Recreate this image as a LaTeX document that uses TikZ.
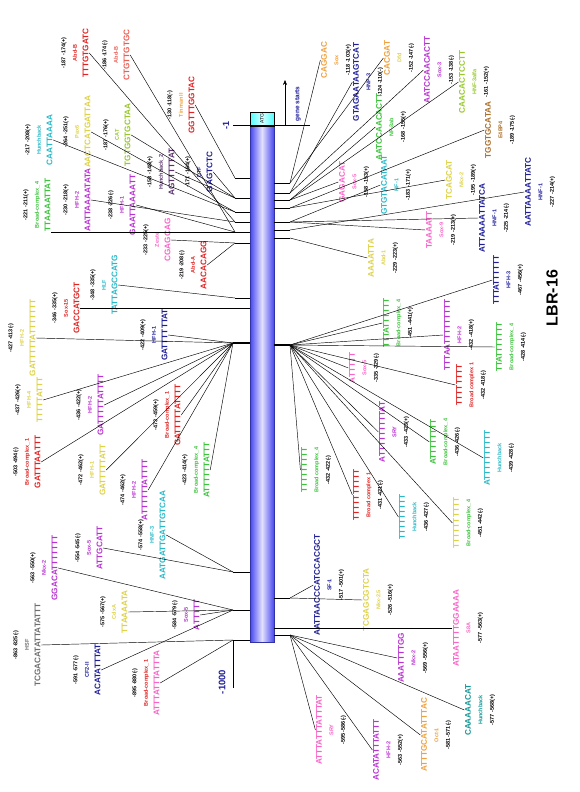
\documentclass[tikz,border=0pt]{standalone}
\usepackage{fontspec}
\setmainfont{Liberation Sans}
\usetikzlibrary{arrows.meta}

\definecolor{cred}{RGB}{225,35,35}
\definecolor{csalmon}{RGB}{235,95,85}
\definecolor{corange}{RGB}{240,160,60}
\definecolor{cyellow}{RGB}{222,210,70}
\definecolor{cgreen}{RGB}{60,195,60}
\definecolor{cygreen}{RGB}{150,200,40}
\definecolor{ccyan}{RGB}{40,185,200}
\definecolor{cteal}{RGB}{20,150,150}
\definecolor{cnavy}{RGB}{30,30,150}
\definecolor{cpurple}{RGB}{185,50,210}
\definecolor{cdpurple}{RGB}{90,50,110}
\definecolor{cpink}{RGB}{250,100,200}
\definecolor{cbrown}{RGB}{170,110,40}
\definecolor{cgray}{RGB}{110,110,110}
\definecolor{barblue}{RGB}{70,70,240}
\definecolor{barmid}{RGB}{225,225,255}

% three text lines of a binding-site label
\newcommand\pn[1]{{\color{black}\fontsize{5.5}{11.5}\selectfont\bfseries #1}}
\newcommand\fn[1]{{\fontsize{5.5}{11.5}\selectfont\bfseries #1}}
\newcommand\sn[1]{{\fontsize{8.2}{11.5}\selectfont\bfseries #1}}
% left labels: position, factor, sequence (sequence nearest the bar)
\newcommand\Llab[7][]{\node[lab,text=#4,#1] (#2) at (#3) {\pn{#5}\\\fn{#6}\\\sn{#7}};}
% right labels: sequence, factor, position
\newcommand\Rlab[7][]{\node[lab,text=#4,#1] (#2) at (#3) {\sn{#7}\\\fn{#6}\\\pn{#5}};}

\begin{document}
\begin{tikzpicture}[x=1pt,y=-1pt,
  lab/.style={rotate=90,align=center,inner sep=0.5pt,font=\fontsize{5.5}{11.5}\selectfont},
  wire/.style={draw=black,line width=0.45pt},
  hubwire/.style={draw=black,line width=2pt},
  barbox/.style={inner sep=0pt,minimum width=24pt,draw=barblue!70!black,line width=0.4pt,
     left color=barblue,right color=barblue,middle color=barmid},
  atgbox/.style={inner sep=0pt,minimum width=24pt,minimum height=14pt,draw=black,line width=0.4pt,
     left color=cyan!70,right color=cyan!70,middle color=cyan!15},
  posmark/.style={rotate=90,text=cnavy,font=\bfseries\fontsize{8}{9}\selectfont,inner sep=0.5pt}]
\useasboundingbox[fill=white] (0,0) rectangle (579,792);

% promoter bar
\node[barbox,minimum height=516pt] (bar) at (262,384) {};
\node[atgbox] (atg) at (262,119) {};
\node[rotate=90,font=\fontsize{5}{6}\selectfont] (atgt) at (atg) {ATG};

% reference marks
\coordinate (m1a) at (233,125);
\coordinate (m1b) at (310,125);
\draw[wire] (m1a) -- (m1b);
\node[posmark,font=\bfseries\fontsize{9}{10}\selectfont] (minus1) at (226,125) {-1};
\coordinate (gs0) at (285,125);
\coordinate (gs1) at (285,80);
\draw[wire,-{Stealth[length=5pt,width=4pt]}] (gs0) -- (gs1);
\node[posmark,font=\bfseries\fontsize{6.5}{7}\selectfont] (gstart) at (298,104) {gene starts};
\coordinate (m1000a) at (233,640);
\coordinate (m1000b) at (233,688);
\draw[wire] (m1000a) -- (m1000b);
\node[posmark,font=\bfseries\fontsize{9.5}{10}\selectfont] (minus1000) at (222,682) {-1000};
\node[rotate=90,font=\bfseries\fontsize{16}{18}\selectfont] (title) at (552,298) {LBR-16};

% collecting points beside the bar
\coordinate (hA) at (235,178);
\coordinate (hB) at (235,198);
\coordinate (hC) at (235,212);
\coordinate (hD) at (235,222);
\coordinate (hK) at (235,232);
\coordinate (hE) at (235,243);
\coordinate (hF) at (235,298);
\coordinate (hG) at (233,343);
\coordinate (hH) at (233,572);
\coordinate (hI) at (233,610);
\coordinate (hJ) at (233,640);
\coordinate (ha) at (290,183);
\coordinate (hb) at (290,193);
\coordinate (hc) at (290,200);
\coordinate (hd) at (290,208);
\coordinate (he) at (290,222);
\coordinate (hk) at (290,230);
\coordinate (hf) at (290,238);
\coordinate (hg) at (290,345);
\coordinate (hh) at (290,598);
\coordinate (hj) at (290,635);

\foreach \h in {hA,hB,hC,hD,hK,hE,hF,hH,hI,hJ}{\draw[wire] (\h) -- (\h -| bar.west);}
\foreach \h in {ha,hb,hc,hd,he,hk,hf,hh,hj}{\draw[wire] (\h) -- (\h -| bar.east);}
\draw[hubwire] (hG) -- (hG -| bar.west);
\draw[hubwire] (hg) -- (hg -| bar.east);

% ---------------- left side ----------------
\Llab{L1}{75,53}{cred}{-187 -174(+)}{Abd-B}{TTTGTGATC}
\Llab{L2}{116,55}{csalmon}{-186 -174(-)}{Abd-B}{CTGTTGTGC}
\Llab{L3}{181,105}{cred}{-130 -118(-)}{\color{corange}Tinman II}{GGTTTGGTAC}
\Llab{L4}{199,172}{cnavy}{-171 -164(+)}{DTF}{GAGTCTC}
\Llab{L5}{39,140}{ccyan}{-217 -208(+)}{Hunchback}{CAATTAAAA}
\Llab{L6}{77,132}{cyellow}{-264 -251(+)}{Pax6}{AACTCATGATTAA}
\Llab{L7}{117,135}{cygreen}{-187 -176(+)}{CAT}{TGTGGTGCTAA}
\Llab{L8}{161,172}{cdpurple}{-158 -148(+)}{Hunchback\_2}{AGTTTTTAT}
\Llab{L9}{37,205}{cgreen}{-221 -211(+)}{Broad-complex\_4}{TTAAAATTAT}
\Llab{L10}{77,200}{cpurple}{-230 -218(+)}{HFH-2}{AATTAAAATATA}
\Llab{L11}{122,205}{cpurple}{-238 -226(-)}{HFH-1}{GAATTAAAATT}
\Llab{L12}{157,240}{cpink}{-233 -225(+)}{Zeste}{CGAGCAG}
\Llab{L13}{193,265}{cred}{-219 -208(-)}{Abd-A}{AACACAGG}
\Llab{L14}{66,308}{cred}{-346 -335(+)}{Sox-15}{GACCATGCT}
\Llab{L15}{104,285}{ccyan}{-348 -335(+)}{HLF}{TATTAGCCATG}
\Llab{L16}{154,335}{cnavy}{-422 -409(+)}{HFH-1}{GATTTTTTAT}
\Llab{L17}{22,338}{cyellow}{-427 -413(-)}{HFH-2}{GATTTTTATTTTTTT}
\Llab{L18}{29,400}{cyellow}{-437 -426(+)}{HFH-4}{TTTTTATTT}
\Llab{L19}{90,405}{cpurple}{-436 -422(+)}{HFH-2}{GATTTTTATTTT}
\Llab{L20}{167,415}{cred}{-473 -459(+)}{Broad-complex\_1}{GATTTTTATTTT}
\Llab{L21}{27,462}{cred}{-503 -494(-)}{Broad-complex\_1}{GATTTAATTT}
\Llab{L22}{92,470}{cyellow}{-472 -462(+)}{HFH-1}{GATTTTTATT}
\Llab{L23}{134,490}{cpurple}{-474 -462(+)}{HFH-2}{ATTTTTTATTTT}
\Llab{L24}{196,470}{cgreen}{-423 -414(+)}{Broad-complex\_4}{ATTTTTTATTT}
\Llab{L25}{152,535}{ccyan}{-574 -558(+)}{HNF-3}{AATGATTGATTGTCAA}
\Llab{L26}{89,548}{cpurple}{-554 -545(-)}{Sox-5}{ATTGCATT}
\Llab{L27}{44,568}{cpurple}{-563 -550(+)}{Nkx-2}{GGACATTTTTTT}
\Llab{L28}{114,612}{cyellow}{-575 -567(+)}{CdxA}{TTAAAATA}
\Llab{L29}{186,615}{cpurple}{-584 -579(-)}{Sox-5}{ATTTTT}
\Llab{L30}{27,645}{cgray}{-863 -825(-)}{HSF}{TCGACATATTATATTT}
\Llab{L31}{87,670}{cnavy}{-591 -577(-)}{CF2-II}{ACATATTTAT}
\Llab{L32}{146,683}{cpink}{-895 -880(-)}{\color{cred}Broad-complex\_1}{ATTTATTTATTTA}

\foreach \n/\h in {L1/hD,L2/hK,L3/hA,L4/hB,L5/hC,L6/hC,L7/hB,L8/hB,L10/hD,L11/hK,
  L12/hE,L13/hE,L15/hF,L16/hG,L17/hG,L18/hG,L19/hG,L20/hG,L21/hG,L22/hG,L23/hG,L24/hG,
  L25/hH,L26/hH,L27/hI,L28/hI,L29/hI,L30/hJ,L31/hI,L32/hJ}{\draw[wire] (\n.south) -- (\h);}
\draw[wire] (L9.south west) -- (L9.south west -| bar.west);
\draw[wire] (L14.south) -- (L14.south -| bar.west);

% ---------------- right side ----------------
\Rlab{R1}{336,60}{corange}{-118 -103(+)}{Sox}{CAGGAC}
\Rlab{R2}{368,82}{cnavy}{-124 -110(-)}{HNF-3}{GTAGAATAAGTCAT}
\Rlab{R3}{399,58}{corange}{-152 -147(-)}{\color{cyellow}Dfd}{CACGAT}
\Rlab{R4}{391,127}{cgreen}{-168 -155(+)}{NF-3ab}{AATCCAACACTT}
\Rlab{R5}{439,70}{cpurple}{-153 -138(-)}{Sox-3}{AATCCAACACTT}
\Rlab{R6}{474,82}{cygreen}{-161 -152(+)}{HNF-3alfa}{CAACACTCCTT}
\Rlab{R7}{500,130}{cbrown}{-189 -175(-)}{E4BP4}{TGGTGCATAA}
\Rlab{R8}{540,192}{cnavy}{-227 -214(+)}{HNF-1}{AATTAAAATTATC}
\Rlab{R9}{396,185}{ccyan}{-183 -171(+)}{HF-1}{GTGTACATAAT}
\Rlab{R10}{461,180}{cyellow}{-195 -189(+)}{Nkx-2}{TCAGCAT}
\Rlab{R11}{354,182}{cpink}{-158 -153(+)}{Sox-5}{GAGACAT}
\Rlab{R12}{441,230}{cpink}{-219 -213(+)}{Sox-9}{TAAAATT}
\Rlab{R13}{383,258}{cyellow}{-229 -223(+)}{Abd-1}{AAAATTA}
\Rlab{R14}{494,218}{cnavy}{-225 -214(-)}{HNF-1}{ATTAAAATTATCA}
\Rlab{R15}{508,280}{cnavy}{-467 -456(+)}{HFH-3}{TTTATTTTTT}
\Rlab{R16}{511,347}{cgreen}{-428 -414(-)}{Broad-complex\_4}{TTATTTTTTT}
\Rlab{R17}{398,323}{cgreen}{-451 -441(+)}{Broad-complex\_4}{TTTATTTTTT}
\Rlab{R18}{459,335}{cpurple}{-432 -418(+)}{HFH-2}{TTTAATTTTTTTTT}
\Rlab{R19}{471,385}{cred}{-432 -418(-)}{Broad complex 1}{TTTTTTTT}
\Rlab{R20}{364,368}{cpink}{-335 -329(-)}{Sox-5}{ATTTTT}
\Rlab{R21}{394,432}{cpurple}{-433 -423(+)}{SRY}{ATTTTTTTTTAT}
\Rlab{R22}{445,442}{cgreen}{-436 -426(-)}{Broad-complex\_4}{ATTTTTTTT}
\Rlab{R23}{499,458}{ccyan}{-439 -428(-)}{Hunchback}{ATTTTTTTTTT}
\Rlab{R24}{316,470}{cgreen}{-432 -422(-)}{Broad complex\_4}{TTTTTTTTT}
\Rlab{R25}{368,495}{cred}{-431 -421(-)}{Broad complex 1}{TTTTTTTTTT}
\Rlab{R26}{414,517}{ccyan}{-436 -427(-)}{Hunchback}{TTTTTTTTT}
\Rlab{R27}{468,523}{cyellow}{-451 -442(-)}{\color{cgreen}Broad-complex\_4}{TTTTTTTTTT}
\Rlab{R28}{329,585}{cnavy}{-517 -501(+)}{SF-1}{AATTAACCCATCCACGCT}
\Rlab{R29}{378,600}{cyellow}{-526 -516(+)}{Nkx-2.5}{TCGAGCGTCTA}
\Rlab{R30}{468,628}{cpink}{-577 -563(+)}{S8A}{ATAATTTTGGAAAA}
\Rlab{R31}{413,658}{cpurple}{-569 -556(+)}{Nkx-2}{AAATTTTGG}
\Rlab{R32}{480,710}{cteal}{-577 -568(+)}{Hunchback}{CAAAAACAT}
\Rlab{R33}{436,735}{corange}{-581 -571(-)}{Oct-1}{ATTTGCATATTTAC}
\Rlab{R34}{388,750}{cpurple}{-563 -552(+)}{HFH-2}{ACATATTTATTT}
\Rlab{R35}{331,730}{cpink}{-595 -586(-)}{SRY}{ATTTATTTATTTAT}

\foreach \n/\h in {R1/ha,R2/hb,R3/ha,R4/hc,R5/hb,R6/hc,R7/hd,R8/hk,R9/he,R10/hd,R11/hc,
  R12/he,R13/hf,R14/he,R15/hg,R17/hg,R18/hg,R19/hg,R20/hg,R21/hg,R22/hg,R23/hg,R24/hg,
  R25/hg,R26/hg,R27/hg,R28/hh,R29/hh,R31/hj,R32/hj,R33/hj,R34/hj,R35/hj}{\draw[wire] (\n.north) -- (\h);}
\draw[wire] (R16.north) -- (hg);
\draw[wire] (R30.north) -- (R30.north -| bar.east);
\end{tikzpicture}
\end{document}
